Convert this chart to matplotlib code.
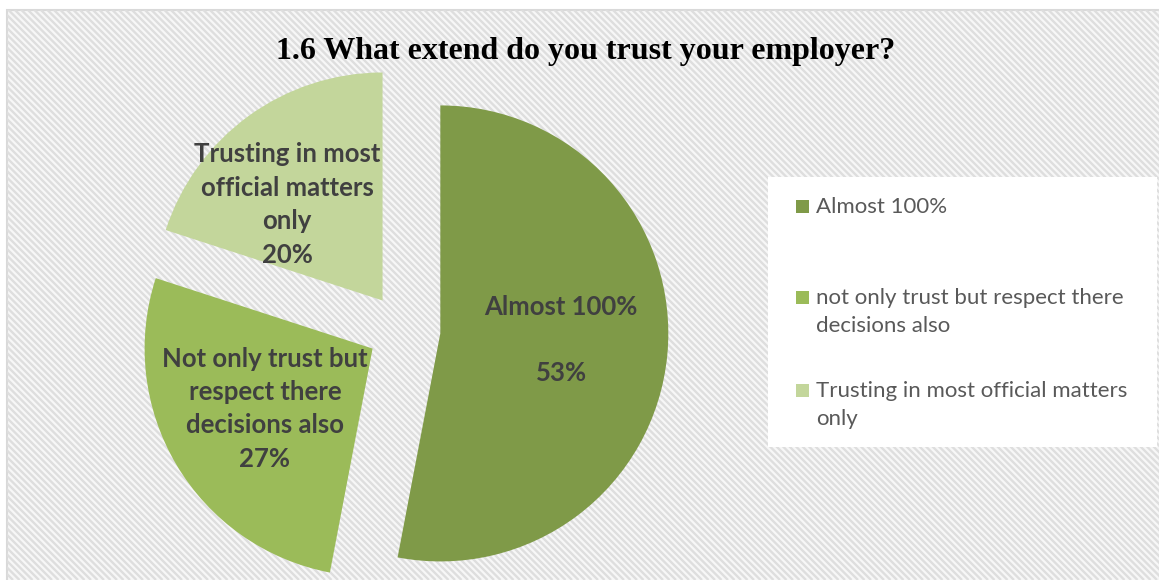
import matplotlib.pyplot as plt
from matplotlib.patches import Rectangle
from matplotlib.collections import LineCollection
from matplotlib.transforms import IdentityTransform
import numpy as np

# survey answers and their shares in percent
legend_labels = ['Almost 100%',
                 'not only trust but respect there\ndecisions also',
                 'Trusting in most official matters\nonly']
slice_labels = ['Almost 100%\n',
                'Not only trust but\nrespect there\ndecisions also',
                'Trusting in most\nofficial matters\nonly']
shares = [53, 27, 20]
colors = ['#7F9A48', '#9BBB59', '#C3D69B']

W, H = 1159, 580
fig = plt.figure(figsize=(W / 100, H / 100), dpi=100)
fig.patch.set_facecolor('white')

def fx(x):
    return x / W

def fy(y):
    return 1 - y / H

# chart area with a thin grey frame and diagonal stripes
bg = Rectangle((fx(7), fy(582)), fx(1160) - fx(7), fy(10) - fy(582),
               transform=fig.transFigure, facecolor='#F7F7F7',
               edgecolor='#D9D9D9', lw=1.5, zorder=-10)
fig.patches.append(bg)
step = 6.5
offs = np.arange(0, W + H + step, step)
segs = [[(c - H, H), (c, 0)] for c in offs]  # pixel coords, "\" direction
stripes = LineCollection(segs, colors='#DEDEDE', linewidths=1.7,
                         transform=IdentityTransform(), zorder=-9)
stripes.set_clip_path(bg)
fig.add_artist(stripes)

fig.text(fx(586), fy(52), '1.6 What extend do you trust your employer?',
         family='Liberation Serif', weight='bold', fontsize=23,
         ha='center', va='center')

# pie axes: centre at (404, 330) px, radius 228 px
r_px = 228
half = 1.5 * r_px
ax = fig.add_axes([fx(404 - half), fy(330 + half), 2 * half / W, 2 * half / H])
wedges, _ = ax.pie(shares, startangle=90, counterclock=False,
                   explode=[0.16] * len(shares), colors=colors, radius=1,
                   wedgeprops=dict(linewidth=0))
ax.set_xlim(-1.5, 1.5)
ax.set_ylim(-1.5, 1.5)
ax.set_aspect('equal')
ax.axis('off')

# data label positions relative to pie centre (in radius units)
label_xy = [(0.689, -0.044), (-0.61, -0.345), (-0.513, 0.55)]
for (x, y), lab, s in zip(label_xy, slice_labels, shares):
    ax.text(x, y, f'{lab}\n{s}%', ha='center', va='center',
            family='Lato', weight='bold', fontsize=18.5, color='#404040',
            linespacing=1.47)

# legend box
fig.patches.append(Rectangle((fx(768), fy(447)), fx(1157) - fx(768), fy(177) - fy(447),
                             transform=fig.transFigure, facecolor='white',
                             edgecolor='none', zorder=1))
legend_base = [214, 305, 398]
for y, lab, c in zip(legend_base, legend_labels, colors):
    fig.patches.append(Rectangle((fx(796), fy(y - 1)), 13 / W, 13 / H,
                                 transform=fig.transFigure, facecolor=c,
                                 edgecolor='none', zorder=2))
    fig.text(fx(816), fy(y - 17), lab, family='Lato', fontsize=16,
             color='#595959', ha='left', va='top', linespacing=1.5, zorder=3)

fig.savefig('out.png', dpi=100)
